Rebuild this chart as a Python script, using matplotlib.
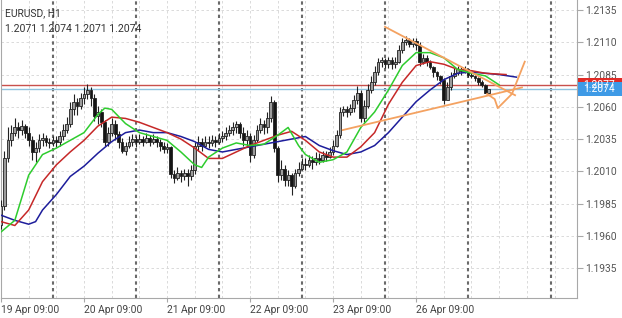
import matplotlib.pyplot as plt
from matplotlib.patches import Rectangle
from matplotlib.transforms import blended_transform_factory

plt.rcParams['font.family'] = ['Roboto', 'DejaVu Sans']

# H1 candles EURUSD, bar 0 = 19 Apr 09:00 (open = previous close)
first_open = 1.1968
closes = [1.1983, 1.2020, 1.2034, 1.2040, 1.2044, 1.2042, 1.2045, 1.2040, 1.2034, 1.2025,
          1.2028, 1.2034, 1.2036, 1.2033, 1.2032, 1.2034, 1.2033, 1.2037, 1.2042, 1.2047,
          1.2058, 1.2064, 1.2061, 1.2067, 1.2070, 1.2073, 1.2067, 1.2053, 1.2056, 1.2048,
          1.2033, 1.2040, 1.2047, 1.2039, 1.2033, 1.2026, 1.2030, 1.2033, 1.2035, 1.2033,
          1.2035, 1.2033, 1.2036, 1.2033, 1.2035, 1.2033, 1.2030, 1.2027, 1.2029, 1.2008,
          1.2005, 1.2009, 1.2006, 1.2009, 1.2006, 1.2011, 1.2030, 1.2033, 1.2030, 1.2033,
          1.2032, 1.2034, 1.2033, 1.2036, 1.2037, 1.2040, 1.2042, 1.2044, 1.2047, 1.2040,
          1.2034, 1.2037, 1.2023, 1.2034, 1.2042, 1.2047, 1.2044, 1.2051, 1.2064, 1.2028,
          1.2007, 1.2012, 1.2003, 1.2007, 1.1999, 1.2009, 1.2012, 1.2016, 1.2015, 1.2019,
          1.2017, 1.2020, 1.2019, 1.2023, 1.2021, 1.2025, 1.2030, 1.2038, 1.2056, 1.2058,
          1.2056, 1.2059, 1.2065, 1.2071, 1.2051, 1.2061, 1.2073, 1.2079, 1.2087, 1.2095,
          1.2096, 1.2093, 1.2096, 1.2093, 1.2095, 1.2104, 1.2110, 1.2112, 1.2109, 1.2111,
          1.2108, 1.2095, 1.2098, 1.2095, 1.2091, 1.2087, 1.2084, 1.2081, 1.2065, 1.2075,
          1.2084, 1.2086, 1.2089, 1.2088, 1.2089, 1.2085, 1.2084, 1.2082, 1.2079, 1.2077,
          1.2071, 1.2074]
highs = [1.1988, 1.2026, 1.2044, 1.2046, 1.2051, 1.2048, 1.2050, 1.2047, 1.2044, 1.2037,
         1.2033, 1.2039, 1.2040, 1.2038, 1.2036, 1.2037, 1.2037, 1.2041, 1.2047, 1.2052,
         1.2064, 1.2070, 1.2067, 1.2071, 1.2075, 1.2078, 1.2075, 1.2070, 1.2061, 1.2058,
         1.2050, 1.2044, 1.2051, 1.2050, 1.2041, 1.2036, 1.2033, 1.2037, 1.2039, 1.2037,
         1.2039, 1.2037, 1.2040, 1.2038, 1.2039, 1.2037, 1.2035, 1.2033, 1.2032, 1.2030,
         1.2011, 1.2013, 1.2011, 1.2012, 1.2012, 1.2015, 1.2033, 1.2037, 1.2036, 1.2037,
         1.2037, 1.2038, 1.2037, 1.2040, 1.2041, 1.2044, 1.2046, 1.2048, 1.2049, 1.2048,
         1.2044, 1.2042, 1.2040, 1.2038, 1.2046, 1.2051, 1.2050, 1.2056, 1.2068, 1.2065,
         1.2030, 1.2019, 1.2015, 1.2011, 1.2009, 1.2012, 1.2017, 1.2020, 1.2020, 1.2023,
         1.2022, 1.2025, 1.2024, 1.2026, 1.2026, 1.2029, 1.2034, 1.2042, 1.2060, 1.2061,
         1.2061, 1.2062, 1.2069, 1.2076, 1.2073, 1.2065, 1.2078, 1.2084, 1.2092, 1.2098,
         1.2099, 1.2098, 1.2099, 1.2099, 1.2099, 1.2108, 1.2113, 1.2115, 1.2113, 1.2113,
         1.2113, 1.2110, 1.2101, 1.2100, 1.2096, 1.2092, 1.2088, 1.2085, 1.2082, 1.2079,
         1.2087, 1.2090, 1.2092, 1.2091, 1.2092, 1.2089, 1.2087, 1.2085, 1.2083, 1.2081,
         1.2078, 1.2074]
lows = [1.1965, 1.1980, 1.2017, 1.2030, 1.2037, 1.2036, 1.2038, 1.2036, 1.2030, 1.2019,
        1.2017, 1.2025, 1.2030, 1.2030, 1.2028, 1.2030, 1.2029, 1.2030, 1.2034, 1.2040,
        1.2044, 1.2054, 1.2054, 1.2058, 1.2062, 1.2066, 1.2061, 1.2049, 1.2047, 1.2044,
        1.2030, 1.2030, 1.2037, 1.2034, 1.2028, 1.2024, 1.2023, 1.2028, 1.2030, 1.2029,
        1.2031, 1.2030, 1.2032, 1.2030, 1.2031, 1.2029, 1.2026, 1.2024, 1.2024, 1.2005,
        1.2001, 1.2003, 1.2002, 1.2003, 1.1999, 1.2003, 1.2008, 1.2026, 1.2026, 1.2029,
        1.2028, 1.2030, 1.2029, 1.2031, 1.2033, 1.2034, 1.2037, 1.2038, 1.2040, 1.2036,
        1.2030, 1.2030, 1.2017, 1.2020, 1.2033, 1.2040, 1.2039, 1.2040, 1.2048, 1.2025,
        1.2002, 1.2003, 1.1999, 1.1999, 1.1992, 1.1997, 1.2006, 1.2011, 1.2011, 1.2013,
        1.2012, 1.2015, 1.2016, 1.2017, 1.2018, 1.2020, 1.2023, 1.2029, 1.2036, 1.2053,
        1.2052, 1.2054, 1.2056, 1.2062, 1.2048, 1.2048, 1.2059, 1.2071, 1.2077, 1.2085,
        1.2091, 1.2090, 1.2090, 1.2089, 1.2090, 1.2094, 1.2102, 1.2108, 1.2106, 1.2106,
        1.2104, 1.2092, 1.2093, 1.2092, 1.2089, 1.2083, 1.2081, 1.2078, 1.2062, 1.2067,
        1.2073, 1.2082, 1.2085, 1.2085, 1.2086, 1.2083, 1.2082, 1.2080, 1.2077, 1.2075,
        1.2071, 1.2071]
opens = [first_open] + closes[:-1]

# Alligator lines (already shifted forward), read at bar positions
lips_bars = [0, 4, 8, 12, 16, 20, 24, 28, 30, 32, 36, 40, 44, 48, 52, 56, 58, 60, 64, 68,
             72, 76, 80, 83, 86, 88, 92, 96, 100, 104, 108, 112, 116, 120, 124, 128, 132,
             136, 140, 144]
lips = [1.1963, 1.1972, 1.2007, 1.2023, 1.2028, 1.2034, 1.2040, 1.2054, 1.2059, 1.2058,
        1.2047, 1.2040, 1.2037, 1.2034, 1.2025, 1.2015, 1.2013, 1.2021, 1.2028, 1.2032,
        1.2030, 1.2031, 1.2038, 1.2044, 1.2030, 1.2023, 1.2017, 1.2019, 1.2025, 1.2044,
        1.2056, 1.2073, 1.2092, 1.2102, 1.2102, 1.2098, 1.2089, 1.2086, 1.2084, 1.2077]
teeth_bars = [0, 4, 8, 12, 16, 20, 24, 28, 32, 36, 40, 44, 48, 52, 56, 60, 64, 68, 72, 76,
              80, 84, 88, 92, 96, 100, 104, 108, 112, 116, 120, 124, 128, 132, 136, 140, 146]
teeth = [1.1971, 1.1968, 1.1980, 1.2002, 1.2015, 1.2025, 1.2034, 1.2045, 1.2052, 1.2051,
         1.2048, 1.2044, 1.2040, 1.2035, 1.2028, 1.2020, 1.2020, 1.2025, 1.2030, 1.2034,
         1.2038, 1.2041, 1.2034, 1.2025, 1.2021, 1.2021, 1.2029, 1.2040, 1.2062, 1.2079,
         1.2092, 1.2095, 1.2093, 1.2089, 1.2088, 1.2086, 1.2085]
jaw_bars = [0, 4, 8, 10, 12, 16, 20, 24, 28, 32, 36, 40, 44, 48, 52, 56, 60, 64, 68, 72,
            76, 80, 84, 88, 92, 96, 100, 104, 108, 112, 116, 120, 124, 128, 132, 136, 140,
            144, 149]
jaw = [1.1976, 1.1972, 1.1969, 1.1971, 1.1980, 1.1992, 1.2006, 1.2014, 1.2024, 1.2033,
       1.2040, 1.2042, 1.2040, 1.2040, 1.2037, 1.2033, 1.2027, 1.2025, 1.2027, 1.2029,
       1.2031, 1.2033, 1.2035, 1.2037, 1.2030, 1.2026, 1.2023, 1.2025, 1.2030, 1.2040,
       1.2052, 1.2064, 1.2073, 1.2081, 1.2086, 1.2087, 1.2086, 1.2085, 1.2083]

# drawn objects (bar, price)
upper_trend = [(111, 1.2122), (148.6, 1.2069)]
lower_trend = [(98.8, 1.2042), (150.6, 1.2075)]
sketch_bars = [140.5, 142.7, 143.6, 145.1, 147.7, 151.4]
sketch_prices = [1.2070, 1.2066, 1.2059, 1.2063, 1.2070, 1.2095]

bid, ask = 1.2074, 1.2077
price_ticks = [1.1935, 1.1960, 1.1985, 1.2010, 1.2035, 1.2060, 1.2085, 1.2110, 1.2135]
time_ticks = [0, 24, 48, 72, 96, 120]
time_labels = ['19 Apr 09:00', '20 Apr 09:00', '21 Apr 09:00', '22 Apr 09:00',
               '23 Apr 09:00', '26 Apr 09:00']
day_breaks = [15, 39, 63, 87, 111, 135, 159]

fig = plt.figure(figsize=(6.22, 3.18), dpi=100)
ax = fig.add_axes([1 / 622, 20 / 318, 576 / 622, 298 / 318])
ymin, ymax = 1.19118, 1.21428
ax.set_xlim(0, 166.5)
ax.set_ylim(ymin, ymax)
pp = (ymax - ymin) / 298  # price per pixel

# grid
for t in price_ticks:
    ax.axhline(t, color='#d4d4d4', lw=0.6, ls=(0, (3, 3)), zorder=0)
for b in range(0, 167, 8):
    ax.axvline(b, color='#d4d4d4', lw=0.6, ls=(0, (3, 3)), zorder=0)
for b in day_breaks:
    ax.axvline(b, color='#6a6a6a', lw=1.5, ls=(0, (1.6, 1.6)), zorder=1)

ax.axhline(ask, color='#c9504c', lw=1.0, zorder=2)
ax.axhline(bid, color='#8fc3df', lw=1.0, zorder=2)

# candles
for i in range(len(closes)):
    o, h, l, c = opens[i], highs[i], lows[i], closes[i]
    ax.vlines(i, l, h, color='#222222', lw=0.8, zorder=3)
    bottom = min(o, c)
    height = max(abs(c - o), 0.00004)
    face = '#9c9c9c' if c >= o else '#151515'
    ax.add_patch(Rectangle((i - 0.4, bottom), 0.8, height, facecolor=face,
                           edgecolor='#222222', lw=0.6, zorder=4))

ax.plot(jaw_bars, jaw, color='#1d1d9b', lw=1.1, zorder=5)
ax.plot(teeth_bars, teeth, color='#c62828', lw=1.1, zorder=5)
ax.plot(lips_bars, lips, color='#2ecc2e', lw=1.1, zorder=5)

orange = '#f4a261'
for line in (upper_trend, lower_trend):
    ax.plot([p[0] for p in line], [p[1] for p in line], color=orange, lw=1.3, zorder=6)
ax.plot(sketch_bars, sketch_prices, color=orange, lw=1.3, zorder=6)

# axes styling
for side in ['left', 'bottom', 'right']:
    ax.spines[side].set_color('#a8a8a8')
    ax.spines[side].set_linewidth(0.8)
ax.spines['top'].set_visible(False)
ax.yaxis.tick_right()
ax.set_yticks(price_ticks)
ax.set_yticklabels([f'{t:.4f}' for t in price_ticks])
ax.set_xticks(time_ticks)
ax.set_xticklabels(time_labels, ha='left')
ax.tick_params(axis='y', direction='out', length=4, width=0.8, color='#a8a8a8',
               labelcolor='#555555', labelsize=7.4, pad=2)
ax.tick_params(axis='x', direction='out', length=3, width=0.8, color='#a8a8a8',
               labelcolor='#444444', labelsize=7.4, pad=2)

# price labels on the right (bid label sits on top of the ask label)
tr = blended_transform_factory(fig.transFigure, ax.transData)
for price, col in [(ask, '#e02b27'), (bid, '#3e9ae6')]:
    ax.add_patch(Rectangle((578 / 622, price - 7 * pp), 44 / 622, 14 * pp, facecolor=col,
                           edgecolor='none', transform=tr, clip_on=False, zorder=10))
    ax.text(583 / 622, price, f'{price:.4f}', transform=tr, color='white', fontsize=7.4,
            va='center', ha='left', zorder=11, clip_on=False)

fig.text(5 / 622, 1 - 13 / 318, 'EURUSD, H1', fontsize=7.4, color='#333333', va='center')
fig.text(5 / 622, 1 - 29 / 318, '1.2071 1.2074 1.2071 1.2074', fontsize=7.6,
         color='#333333', va='center')

fig.savefig('out.png', dpi=100)
